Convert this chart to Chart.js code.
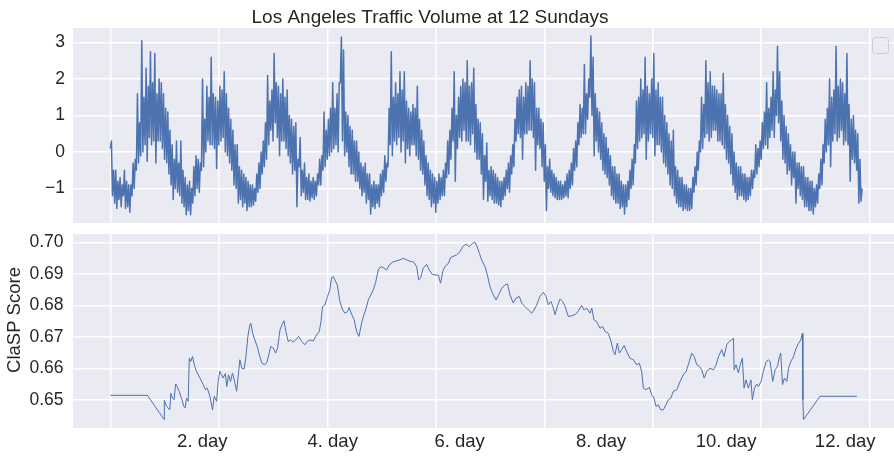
<!DOCTYPE html>
<html>
<head>
<meta charset="utf-8">
<script src="https://cdn.jsdelivr.net/npm/chart.js@4.4.1/dist/chart.umd.min.js"></script>
<style>
  html, body { margin: 0; padding: 0; background: #fff; }
  #wrap { position: relative; width: 894px; height: 459px; }
  #top { position: absolute; left: 0; top: 0; }
  #bottom { position: absolute; left: 0; top: 229px; }
</style>
</head>
<body>
<div id="wrap">
  <canvas id="top" width="894" height="229"></canvas>
  <canvas id="bottom" width="894" height="230"></canvas>
</div>
<script>
// traffic volume (z-normalised): low / high of each bin of 10 samples
const trafficStep = 10;
const trafficLow = [
  0.1, -1.2, -1.4, -1.55, -1.3, -1.5, -1.2, -1.55, -1.5, -1.65,
  -1.2, -1.0, -0.5, -0.3, -0.1, 0.0, 0.2, -0.25, 0.4, 0.2,
  0.3, -0.3, 0.3, 0.3, 0.1, -0.2, -0.3, -0.6, -0.9, -1.3,
  -1.0, -1.1, -1.2, -1.4, -1.5, -1.72, -1.6, -1.72, -1.4, -1.2,
  -1.0, -1.1, -0.5, -0.4, 0.0, 0.3, 0.2, 0.2, 0.1, -0.45,
  0.2, 0.3, 0.4, 0.0, -0.1, -0.3, -0.5, -0.9, -1.0, -1.4,
  -1.3, -1.5, -1.4, -1.6, -1.5, -1.5, -1.45, -1.35, -1.1, -1.0,
  -0.6, -0.4, -0.2, 0.2, 0.6, 0.3, 0.8, 0.4, -0.1, 0.3,
  0.3, 0.1, -0.1, -0.3, -0.6, -0.5, -1.5, -0.4, -1.2, -1.1,
  -1.3, -1.3, -1.35, -1.25, -1.3, -1.2, -0.9, -0.9, -0.5, -0.4,
  -0.2, -0.1, 0.0, 0.1, 0.2, 0.0, 1.9, 0.3, -0.1, 0.0,
  -0.4, -0.6, -0.6, -0.8, -0.8, -1.0, -1.2, -1.1, -1.4, -1.3,
  -1.7, -1.5, -1.55, -1.4, -1.5, -1.2, -1.1, -0.8, -0.4, 0.2,
  -0.1, 0.3, 0.2, 0.4, 0.0, 0.3, -0.3, 0.1, -0.1, 0.2,
  0.2, -0.1, -0.2, -0.5, -0.6, -0.9, -1.2, -1.3, -1.5, -1.4,
  -1.65, -1.4, -1.3, -1.2, -1.2, -0.7, -0.6, -0.2, 0.3, -0.8,
  0.1, 0.4, 0.3, 0.6, 0.3, 0.3, 0.2, 0.5, 0.0, -0.2,
  -0.2, -0.6, -1.3, -0.8, -1.35, -1.2, -1.3, -1.4, -1.4, -1.45,
  -1.5, -1.3, -1.2, -1.0, -1.1, -0.6, -0.4, 0.3, 0.5, 0.4,
  -0.2, 0.5, 0.5, 0.6, 0.6, 0.4, -0.5, 0.2, 0.1, -0.4,
  -0.8, -1.6, -1.0, -1.1, -1.2, -1.25, -1.3, -1.3, -1.3, -1.25,
  -1.2, -1.25, -1.0, -0.9, -0.5, -0.4, 0.2, 0.4, 0.5, 0.5,
  0.9, 1.5, 1.0, -0.1, 0.3, 0.0, -0.2, -0.5, -0.6, -0.7,
  -0.9, -1.2, -1.3, -1.4, -1.4, -1.55, -1.5, -1.7, -1.5, -1.3,
  -1.0, -0.9, -0.3, 0.1, 0.3, 0.4, 0.5, -0.2, 0.3, 0.5,
  0.4, -0.1, 0.2, 0.2, 0.0, -0.3, -0.4, -0.6, -0.9, -1.0,
  -1.2, -1.4, -1.5, -1.5, -1.6, -1.55, -1.6, -1.6, -1.55, -1.1,
  -0.9, -0.5, 0.0, 0.1, 0.4, 0.5, 0.3, 0.4, 0.6, 0.6,
  0.3, 0.3, 0.2, 0.1, -0.2, -0.3, -0.6, -0.9, -1.1, -1.3,
  -1.2, -1.2, -1.3, -1.35, -1.3, -1.2, -1.0, -0.7, -0.6, -0.4,
  -0.2, 0.1, 0.2, 0.1, 0.4, 0.6, 0.4, 1.0, 0.8, 0.3,
  -0.2, -0.3, -0.6, -0.5, -0.9, -0.7, -1.4, -1.0, -1.2, -1.3,
  -1.5, -1.5, -1.6, -1.6, -1.7, -1.5, -1.4, -1.0, -0.9, -0.3,
  0.0, 0.2, -0.4, 0.3, 0.5, 0.3, 0.4, 0.6, 0.2, 0.3,
  0.2, -0.8, -0.2, -0.3, -0.5, -1.4, -1.35
];
const trafficHigh = [
  0.3, -0.5, -0.5, -0.8, -0.7, -0.9, -0.5, -0.8, -0.9, -0.9,
  -0.3, -0.2, 1.6, 0.8, 3.05, 1.5, 2.3, 1.8, 2.75, 1.9,
  2.7, 1.6, 2.0, 1.9, 1.6, 1.2, 1.1, 0.6, 0.2, -0.2,
  0.3, -0.3, 0.3, -0.5, -0.7, -0.9, -0.8, -1.0, -0.4, -0.1,
  -0.2, -0.3, 2.0, 0.9, 1.8, 1.5, 2.6, 1.6, 1.5, 1.4,
  1.8, 1.7, 2.2, 1.6, 1.2, 0.9, 0.6, 0.2, 0.2, -0.4,
  -0.5, -0.6, -0.7, -0.8, -0.9, -0.9, -1.0, -0.6, -0.3, 0.0,
  0.3, 0.8, 2.1, 1.4, 1.7, 2.7, 1.9, 1.8, 1.6, 2.0,
  1.5, 1.7, 1.0, 0.9, 0.7, 0.8, -0.2, 0.4, -0.5, -0.3,
  -0.7, -0.6, -0.8, -0.7, -0.8, -0.6, -0.2, -0.1, 1.1, 0.6,
  0.9, 1.2, 1.9, 1.2, 1.6, 1.9, 3.15, 2.8, 1.1, 1.0,
  0.7, 0.6, 0.3, 0.3, 0.0, -0.3, -0.4, -0.3, -0.6, -0.6,
  -0.9, -0.8, -0.9, -0.9, -0.6, -0.5, -0.1, -0.3, 1.2, 2.75,
  1.5, 1.9, 1.6, 2.2, 1.7, 2.2, 1.4, 1.2, 1.1, 1.3,
  1.2, 1.8, 0.9, 0.6, 0.3, -0.1, -0.3, -0.5, -0.6, -0.7,
  -0.8, -0.6, -0.7, -0.5, -0.3, 0.3, 0.6, 1.2, 2.2, 1.0,
  1.5, 1.8, 2.0, 1.9, 2.5, 1.8, 1.9, 2.3, 1.3, 0.9,
  0.8, 0.5, -0.1, 0.25, -0.5, -0.4, -0.5, -0.6, -0.7, -0.8,
  -0.8, -0.7, -0.5, -0.3, -0.1, 0.2, 0.9, 1.5, 1.7, 1.8,
  1.5, 1.9, 1.8, 2.5, 2.0, 1.9, 1.2, 1.2, 0.9, 0.8,
  0.2, -0.4, -0.2, -0.5, -0.6, -0.7, -0.8, -0.8, -0.9, -0.8,
  -0.6, -0.5, -0.3, 0.1, 0.3, 0.8, 1.3, 1.2, 2.4, 1.6,
  2.0, 3.18, 2.6, 1.6, 1.2, 1.1, 0.8, 0.5, 0.4, 0.1,
  -0.1, -0.4, -0.4, -0.6, -0.6, -0.8, -0.9, -0.9, -0.8, -0.5,
  -0.2, 0.2, 1.4, 1.5, 2.0, 1.7, 2.6, 1.8, 1.6, 2.0,
  2.7, 1.7, 1.9, 1.5, 1.5, 1.0, 0.8, 0.5, 0.3, 0.6,
  -0.4, -0.5, -0.7, -0.7, -0.9, -0.9, -1.0, -1.0, -0.7, -0.4,
  0.0, 0.3, 1.5, 1.3, 2.5, 1.9, 2.2, 1.8, 1.8, 1.7,
  1.6, 1.6, 2.15, 1.3, 1.0, 0.7, 0.5, 0.0, -0.3, -0.4,
  -0.4, -0.6, -0.6, -0.7, -0.7, -0.5, -0.5, 0.2, 0.1, 0.3,
  0.8, 1.1, 1.9, 1.2, 1.5, 2.2, 1.7, 2.9, 2.2, 1.4,
  1.0, 0.7, 0.5, 0.2, 0.0, 0.0, -0.3, -0.3, -0.4, -0.4,
  -0.7, -0.7, -0.8, -0.8, -1.0, -0.9, -0.6, -0.2, 0.2, 0.9,
  1.2, 2.0, 1.5, 1.7, 2.9, 1.8, 2.0, 1.9, 1.6, 2.7,
  1.3, 0.9, 1.0, 0.6, 0.5, -0.2, -1.0
];

// ClaSP profile
const claspX = [
  0, 171, 248, 249, 259, 274, 279, 287, 294, 301, 308, 317, 328, 339, 345, 351, 359, 364, 371, 379,
  387, 397, 413, 428, 439, 447, 459, 471, 479, 490, 497, 505, 513, 520, 530, 537, 545, 554, 563, 571,
  582, 590, 597, 606, 617, 625, 634, 643, 648, 656, 666, 677, 689, 699, 712, 723, 732, 740, 751, 762,
  771, 782, 791, 800, 809, 820, 831, 843, 855, 868, 882, 897, 908, 920, 935, 951, 963, 971, 978, 989,
  1001, 1012, 1020, 1028, 1035, 1046, 1058, 1071, 1081, 1094, 1101, 1112, 1124, 1135, 1146, 1158, 1169, 1177, 1189, 1201,
  1212, 1223, 1235, 1247, 1261, 1273, 1286, 1301, 1320, 1335, 1350, 1366, 1384, 1399, 1412, 1421, 1430, 1442, 1458, 1470,
  1482, 1496, 1512, 1522, 1532, 1542, 1558, 1569, 1596, 1612, 1624, 1639, 1655, 1670, 1681, 1691, 1701, 1711, 1727, 1738,
  1750, 1762, 1778, 1788, 1804, 1819, 1831, 1842, 1857, 1870, 1885, 1896, 1911, 1927, 1942, 1953, 1965, 1980, 1996, 2008,
  2019, 2031, 2042, 2050, 2060, 2073, 2085, 2096, 2111, 2126, 2142, 2157, 2173, 2183, 2196, 2211, 2219, 2229, 2242, 2249,
  2257, 2269, 2280, 2295, 2306, 2319, 2326, 2337, 2346, 2357, 2368, 2380, 2395, 2411, 2426, 2438, 2449, 2457, 2469, 2485,
  2495, 2506, 2515, 2526, 2537, 2549, 2561, 2572, 2583, 2595, 2611, 2626, 2641, 2654, 2664, 2680, 2691, 2703, 2715, 2726,
  2737, 2749, 2764, 2780, 2792, 2803, 2818, 2829, 2841, 2853, 2864, 2872, 2875, 2884, 2895, 2903, 2913, 2921, 2930, 2941,
  2953, 2959, 2969, 2979, 2987, 2999, 3010, 3023, 3033, 3041, 3053, 3064, 3075, 3084, 3090, 3098, 3107, 3118, 3126, 3136,
  3149, 3161, 3173, 3182, 3190, 3192, 3195, 3271, 3441
];
const claspY = [
  0.6514, 0.6514, 0.6437, 0.6498, 0.6479, 0.6468, 0.6520, 0.6505, 0.6500, 0.6550, 0.6542, 0.6527, 0.6505, 0.6479, 0.6474, 0.6505, 0.6495, 0.6632, 0.6622, 0.6637,
  0.6611, 0.6590, 0.6569, 0.6548, 0.6532, 0.6537, 0.6511, 0.6468, 0.6511, 0.6495, 0.6558, 0.6590, 0.6579, 0.6569, 0.6583, 0.6542, 0.6579, 0.6558, 0.6585, 0.6563,
  0.6527, 0.6579, 0.6627, 0.6600, 0.6598, 0.6637, 0.6701, 0.6738, 0.6743, 0.6711, 0.6690, 0.6669, 0.6637, 0.6616, 0.6611, 0.6621, 0.6648, 0.6669, 0.6664, 0.6648,
  0.6664, 0.6722, 0.6738, 0.6751, 0.6717, 0.6685, 0.6690, 0.6683, 0.6690, 0.6701, 0.6685, 0.6675, 0.6685, 0.6690, 0.6687, 0.6706, 0.6717, 0.6748, 0.6796, 0.6801,
  0.6828, 0.6849, 0.6888, 0.6891, 0.6880, 0.6865, 0.6812, 0.6785, 0.6775, 0.6780, 0.6793, 0.6772, 0.6754, 0.6717, 0.6701, 0.6743, 0.6770, 0.6785, 0.6817, 0.6833,
  0.6849, 0.6873, 0.6912, 0.6923, 0.6918, 0.6912, 0.6928, 0.6937, 0.6941, 0.6944, 0.6949, 0.6944, 0.6939, 0.6937, 0.6923, 0.6881, 0.6886, 0.6918, 0.6930, 0.6912,
  0.6899, 0.6896, 0.6896, 0.6870, 0.6907, 0.6923, 0.6933, 0.6952, 0.6960, 0.6970, 0.6986, 0.6994, 0.6986, 0.6997, 0.7000, 0.6986, 0.6965, 0.6944, 0.6923, 0.6896,
  0.6859, 0.6838, 0.6817, 0.6831, 0.6854, 0.6865, 0.6867, 0.6833, 0.6807, 0.6823, 0.6828, 0.6807, 0.6796, 0.6785, 0.6775, 0.6785, 0.6801, 0.6828, 0.6841, 0.6828,
  0.6801, 0.6812, 0.6791, 0.6770, 0.6796, 0.6820, 0.6812, 0.6796, 0.6764, 0.6767, 0.6770, 0.6782, 0.6799, 0.6785, 0.6791, 0.6775, 0.6791, 0.6754, 0.6748, 0.6738,
  0.6727, 0.6733, 0.6717, 0.6711, 0.6690, 0.6653, 0.6643, 0.6680, 0.6648, 0.6659, 0.6672, 0.6653, 0.6632, 0.6627, 0.6611, 0.6616, 0.6590, 0.6537, 0.6532, 0.6539,
  0.6516, 0.6505, 0.6479, 0.6484, 0.6468, 0.6468, 0.6484, 0.6500, 0.6505, 0.6527, 0.6532, 0.6558, 0.6579, 0.6590, 0.6611, 0.6648, 0.6637, 0.6611, 0.6606, 0.6595,
  0.6569, 0.6590, 0.6600, 0.6595, 0.6611, 0.6637, 0.6659, 0.6637, 0.6675, 0.6685, 0.6690, 0.6695, 0.6595, 0.6611, 0.6585, 0.6611, 0.6632, 0.6537, 0.6563, 0.6537,
  0.6563, 0.6500, 0.6537, 0.6550, 0.6542, 0.6558, 0.6590, 0.6621, 0.6627, 0.6621, 0.6558, 0.6595, 0.6606, 0.6637, 0.6648, 0.6548, 0.6569, 0.6558, 0.6600, 0.6621,
  0.6637, 0.6664, 0.6680, 0.6690, 0.6711, 0.6500, 0.6437, 0.6511, 0.6511
];

const gridX = [0, 500, 1000, 1500, 2000, 2500, 3000, 3500];
const dayTicks = [424, 1025, 1610, 2262, 2838, 3387];
const dayLabels = ['2. day', '4. day', '6. day', '8. day', '10. day', '12. day'];
const trafficTicks = [-1, 0, 1, 2, 3];
const claspTicks = [0.65, 0.66, 0.67, 0.68, 0.69, 0.70];

const BLUE = '#4C72B0';
const PANEL = '#EAEAF2';
const TEXT = '#262626';
const FONT = "'Liberation Sans', Arial, sans-serif";

Chart.defaults.font.family = FONT;
Chart.defaults.color = TEXT;

// low and high of each bin, in time order
const trafficPoints = [];
trafficLow.forEach((lo, i) => {
  trafficPoints.push({ x: i * trafficStep, y: lo });
  trafficPoints.push({ x: i * trafficStep + trafficStep / 2, y: trafficHigh[i] });
});

const panelBg = {
  id: 'panelBg',
  beforeDraw(chart) {
    const a = chart.chartArea;
    const ctx = chart.ctx;
    ctx.save();
    ctx.fillStyle = PANEL;
    ctx.fillRect(a.left, a.top, a.right - a.left, a.bottom - a.top);
    ctx.restore();
  }
};

const topTitle = {
  id: 'topTitle',
  afterDraw(chart) {
    const ctx = chart.ctx;
    ctx.save();
    ctx.font = '19px ' + FONT;
    ctx.fillStyle = TEXT;
    ctx.textAlign = 'center';
    ctx.textBaseline = 'alphabetic';
    ctx.fillText('Los Angeles Traffic Volume at 12 Sundays', 430, 22.5);
    // empty legend frame
    ctx.beginPath();
    ctx.roundRect(872.5, 37.5, 16, 16, 3);
    ctx.fillStyle = 'rgba(234,234,242,0.8)';
    ctx.fill();
    ctx.strokeStyle = '#cccccc';
    ctx.lineWidth = 1;
    ctx.stroke();
    ctx.restore();
  }
};

const yLabel = {
  id: 'yLabel',
  afterDraw(chart) {
    const ctx = chart.ctx;
    ctx.save();
    ctx.translate(15, 91);
    ctx.rotate(-Math.PI / 2);
    ctx.font = '18.5px ' + FONT;
    ctx.fillStyle = TEXT;
    ctx.textAlign = 'center';
    ctx.textBaseline = 'middle';
    ctx.fillText('ClaSP Score', 0, 0);
    ctx.restore();
  }
};

const gridColor = (ctx) => (ctx.tick && gridX.includes(ctx.tick.value)) ? '#ffffff' : 'rgba(0,0,0,0)';
const fitY = (s) => { s.width = 73; s.paddingTop = 0; s.paddingBottom = 0; };

new Chart(document.getElementById('top'), {
  type: 'line',
  data: {
    datasets: [{
      data: trafficPoints,
      borderColor: BLUE,
      borderWidth: 1.5,
      borderJoinStyle: 'round',
      pointRadius: 0,
      tension: 0
    }]
  },
  options: {
    responsive: false,
    animation: false,
    devicePixelRatio: 1,
    layout: { padding: { top: 28, left: 0, right: 0, bottom: 0 } },
    plugins: { legend: { display: false }, tooltip: { enabled: false } },
    scales: {
      x: {
        type: 'linear', min: -172, max: 3612,
        afterBuildTicks: (s) => { s.ticks = gridX.map(v => ({ value: v })); },
        afterFit: (s) => { s.height = 6; s.paddingLeft = 0; s.paddingRight = 0; },
        ticks: { display: false },
        grid: { color: '#ffffff', lineWidth: 1.5, drawTicks: false },
        border: { display: false }
      },
      y: {
        min: -1.945, max: 3.4,
        afterBuildTicks: (s) => { s.ticks = trafficTicks.map(v => ({ value: v })); },
        afterFit: fitY,
        ticks: { padding: 8, color: TEXT, font: { size: 17.5 }, callback: (v) => v < 0 ? '\u2212' + Math.abs(v) : String(v) },
        grid: { color: '#ffffff', lineWidth: 1.5, drawTicks: false },
        border: { display: false }
      }
    }
  },
  plugins: [panelBg, topTitle]
});

new Chart(document.getElementById('bottom'), {
  type: 'line',
  data: {
    datasets: [{
      data: claspX.map((x, i) => ({ x: x, y: claspY[i] })),
      borderColor: BLUE,
      borderWidth: 1,
      borderJoinStyle: 'round',
      pointRadius: 0,
      tension: 0
    }]
  },
  options: {
    responsive: false,
    animation: false,
    devicePixelRatio: 1,
    layout: { padding: { top: 5, left: 0, right: 0, bottom: 0 } },
    plugins: { legend: { display: false }, tooltip: { enabled: false } },
    scales: {
      x: {
        type: 'linear', min: -172, max: 3612,
        afterBuildTicks: (s) => {
          s.ticks = gridX.concat(dayTicks).sort((a, b) => a - b).map(v => ({ value: v }));
        },
        afterFit: (s) => { s.height = 31; s.paddingLeft = 0; s.paddingRight = 0; },
        ticks: {
          autoSkip: false, maxRotation: 0, padding: 3, color: TEXT, font: { size: 18.5 },
          callback: (v) => { const k = dayTicks.indexOf(v); return k >= 0 ? dayLabels[k] : ''; }
        },
        grid: { color: gridColor, lineWidth: 1.5, drawTicks: false },
        border: { display: false }
      },
      y: {
        min: 0.64103, max: 0.70263,
        afterBuildTicks: (s) => { s.ticks = claspTicks.map(v => ({ value: v })); },
        afterFit: fitY,
        ticks: { padding: 9.5, color: TEXT, font: { size: 17.5 }, callback: (v) => v.toFixed(2) },
        grid: { color: '#ffffff', lineWidth: 1.5, drawTicks: false },
        border: { display: false }
      }
    }
  },
  plugins: [panelBg, yLabel]
});
</script>
</body>
</html>
